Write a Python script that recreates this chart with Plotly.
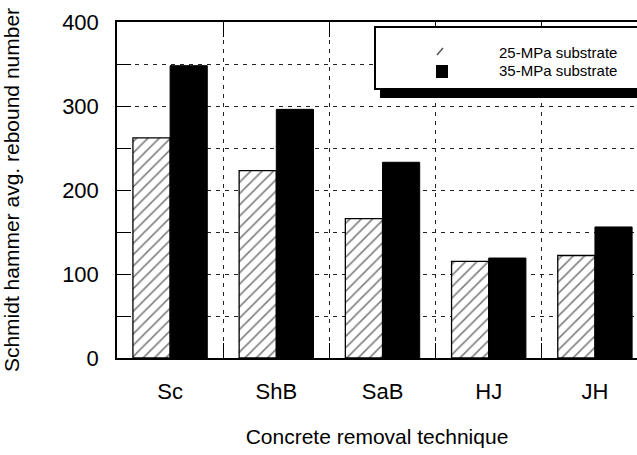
import plotly.graph_objects as go

# Concrete removal techniques and Schmidt hammer rebound results
techniques = ["Sc", "ShB", "SaB", "HJ", "JH"]
rebound_25mpa = [262, 223, 166, 115, 122]
rebound_35mpa = [348, 296, 233, 119, 156]
series_names = ["25-MPa substrate", "35-MPa substrate"]

y_tick_vals = [0, 50, 100, 150, 200, 250, 300, 350, 400]
y_tick_text = ["0", "", "100", "", "200", "", "300", "", "400"]

FONT = "Liberation Sans, Arial, sans-serif"

fig = go.Figure()

fig.add_trace(go.Bar(
    name=series_names[0],
    x=techniques,
    y=rebound_25mpa,
    marker=dict(
        color="white",
        line=dict(color="black", width=1.3),
        pattern=dict(shape="/", size=8, solidity=0.2,
                     fgcolor="#000000", bgcolor="white", fillmode="overlay"),
    ),
    showlegend=False,
))
fig.add_trace(go.Bar(
    name=series_names[1],
    x=techniques,
    y=rebound_35mpa,
    marker=dict(color="black", line=dict(color="black", width=1)),
    showlegend=False,
))

fig.update_layout(
    width=637,
    height=455,
    margin=dict(l=117, r=0, t=22, b=97),
    paper_bgcolor="white",
    plot_bgcolor="white",
    barmode="group",
    bargap=0.3,
    bargroupgap=0,
    font=dict(family=FONT, size=22, color="black"),
    xaxis=dict(
        type="category",
        categoryorder="array",
        categoryarray=techniques,
        range=[-0.5, 4.396],
        tickson="boundaries",
        ticks="inside",
        ticklen=15,
        tickwidth=1,
        tickcolor="black",
        showline=True,
        linecolor="black",
        linewidth=1.5,
        mirror="ticks",
        showgrid=True,
        gridcolor="#222222",
        gridwidth=1,
        griddash="4px,5px",
        ticklabelstandoff=13,
        title=dict(text="Concrete removal technique", standoff=26,
                   font=dict(size=21)),
        zeroline=False,
    ),
    yaxis=dict(
        range=[0, 400],
        tickvals=y_tick_vals,
        ticktext=y_tick_text,
        ticks="inside",
        ticklen=14,
        tickwidth=1,
        tickcolor="black",
        showline=True,
        linecolor="black",
        linewidth=1.5,
        mirror=False,
        showgrid=True,
        gridcolor="#222222",
        gridwidth=1,
        griddash="4px,5px",
        ticklabelstandoff=12,
        title=dict(text="Schmidt hammer avg. rebound number", standoff=40,
                   font=dict(size=21)),
        zeroline=False,
    ),
    yaxis2=dict(
        overlaying="y",
        side="right",
        anchor="x",
        range=[0, 400],
        tickvals=y_tick_vals,
        ticks="inside",
        ticklen=6,
        tickcolor="black",
        showticklabels=False,
        showline=False,
        showgrid=False,
        zeroline=False,
    ),
)

# Legend panel with drop shadow, placed in pixel-like paper units
plot_w = 637 - 117
plot_h = 455 - 22 - 97


def px_x(x):
    return (x - 117) / plot_w


def px_y(y):
    return (455 - 97 - y) / plot_h


fig.add_shape(type="rect", xref="paper", yref="paper",
              x0=px_x(380), x1=px_x(660), y0=px_y(98), y1=px_y(34),
              fillcolor="black", line=dict(width=0), layer="above")
fig.add_shape(type="rect", xref="paper", yref="paper",
              x0=px_x(375), x1=px_x(660), y0=px_y(89), y1=px_y(27),
              fillcolor="white", line=dict(color="black", width=2), layer="above")

# Legend swatches
fig.add_shape(type="line", xref="paper", yref="paper",
              x0=px_x(437), x1=px_x(443), y0=px_y(55), y1=px_y(48),
              line=dict(color="#555555", width=1.5), layer="above")
fig.add_shape(type="rect", xref="paper", yref="paper",
              x0=px_x(436), x1=px_x(448), y0=px_y(78), y1=px_y(65),
              fillcolor="black", line=dict(width=0), layer="above")

for name, ypix in zip(series_names, [52, 70]):
    fig.add_annotation(xref="paper", yref="paper", x=px_x(497), y=px_y(ypix),
                       text=name, showarrow=False, xanchor="left",
                       yanchor="middle", font=dict(size=15, family=FONT))

fig.write_html("out.html")
